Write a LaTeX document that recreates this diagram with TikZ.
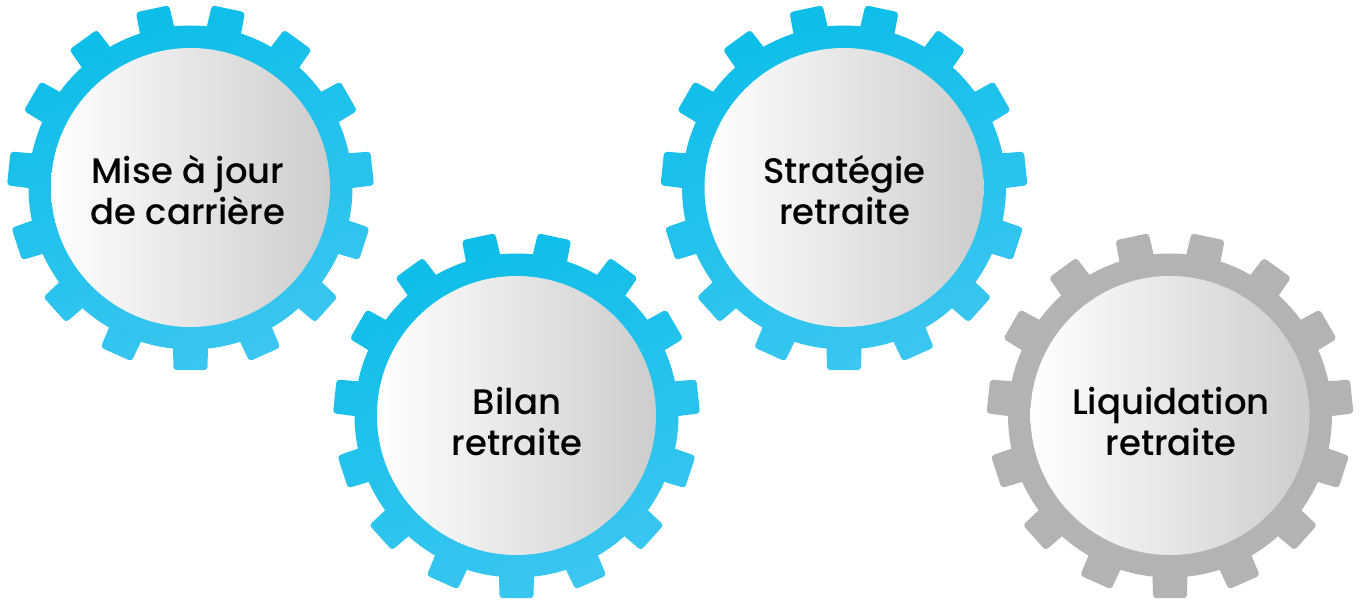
\documentclass[tikz,border=0pt]{standalone}
\usepackage{fontspec}
\setmainfont{Poppins}[UprightFont=* Medium]
\definecolor{gearblueA}{HTML}{0CBEE8}
\definecolor{gearblueB}{HTML}{3BC6F0}
\definecolor{geargray}{HTML}{B3B3B3}
\definecolor{discright}{HTML}{CDCDCE}

% one toothed wheel around the current origin
\newcommand{\gearpath}{
  (0,0) circle (162) foreach \a in {-90,-66,...,246} {
    (\a-6.8:150) -- (\a-5.3:183.5) -- (\a+5.3:183.5) -- (\a+6.8:150) -- cycle
  }
}

\begin{document}
\begin{tikzpicture}[
        x=0.75pt, y=0.75pt,
        gearblue/.style={rounded corners=2.5pt, top color=gearblueA, bottom color=gearblueB, shading angle=20},
        geargrey/.style={rounded corners=2.5pt, fill=geargray},
        disc/.style={circle, minimum size=209.25pt, inner sep=0pt, left color=white, right color=discright},
        caption/.style={align=center, inner sep=0pt, font=\fontsize{26.6pt}{30.75pt}\selectfont, text=black}
        ]
        \useasboundingbox (0,0) rectangle (1360,600);

        \foreach \nom/\cx/\cy/\tx/\ty/\gearstyle/\txt in {
            miseajour/190.5/412.5/-2.5/-3/gearblue/{Mise à jour\\de carrière},
            bilan/516.5/184.5/0.5/-6/gearblue/{Bilan\\retraite},
            strategie/844/412.5/0.5/-3/gearblue/{Stratégie\\retraite},
            liquidation/1170/184.5/1/-6/geargrey/{Liquidation\\retraite}} {
            \begin{scope}[shift={(\cx,\cy)}]
            \path[\gearstyle] \gearpath;
            \node[disc] (\nom) at (0,0) {};
            \node[caption] (\nom txt) at (\tx,\ty) {\txt};
            \end{scope}
        }
    \end{tikzpicture}
\end{document}
